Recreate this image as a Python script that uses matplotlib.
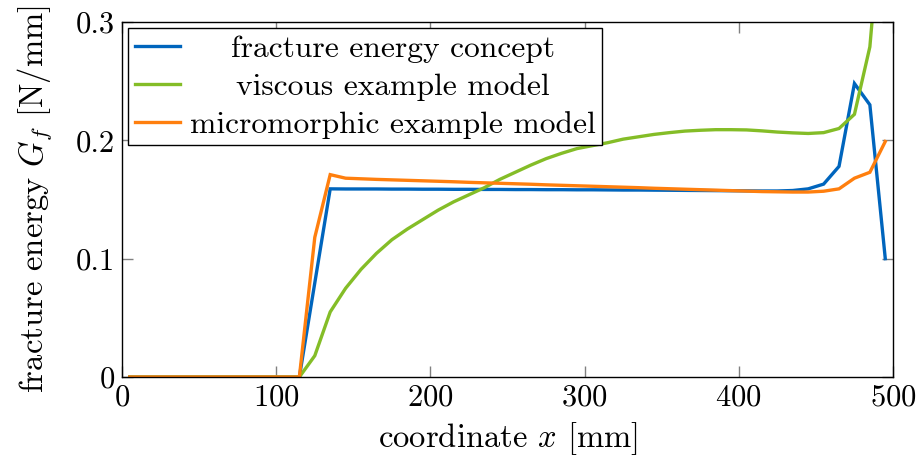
import matplotlib
matplotlib.use("Agg")
import matplotlib.pyplot as plt
from matplotlib.ticker import FuncFormatter

plt.rcParams['font.family'] = 'serif'
plt.rcParams['font.serif'] = ['cmr10']
plt.rcParams['mathtext.fontset'] = 'cm'
plt.rcParams['axes.formatter.use_mathtext'] = True

# element centres [mm]
x = [5, 15, 25, 35, 45, 55, 65, 75, 85, 95, 105, 115, 125, 135, 145, 155, 165, 175, 185, 195,
     205, 215, 225, 235, 245, 255, 265, 275, 285, 295, 305, 315, 325, 335, 345, 355, 365, 375,
     385, 395, 405, 415, 425, 435, 445, 455, 465, 475, 485, 495]

fracture = [0, 0, 0, 0, 0, 0, 0, 0, 0, 0, 0, 0, 0.0795, 0.159, 0.1589, 0.1589, 0.1589, 0.1588,
            0.1588, 0.1587, 0.1587, 0.1586, 0.1586, 0.1585, 0.1585, 0.1584, 0.1584, 0.1583,
            0.1583, 0.1582, 0.1582, 0.1581, 0.1580, 0.1580, 0.1579, 0.1578, 0.1577, 0.1576,
            0.1575, 0.1574, 0.1573, 0.1572, 0.1572, 0.1576, 0.1590, 0.1630, 0.1780, 0.2480,
            0.2300, 0.1000]

viscous = [0, 0, 0, 0, 0, 0, 0, 0, 0, 0, 0, 0, 0.018, 0.055, 0.075, 0.091, 0.1045, 0.116,
           0.125, 0.133, 0.141, 0.148, 0.154, 0.160, 0.167, 0.173, 0.179, 0.1845, 0.189,
           0.193, 0.1955, 0.198, 0.201, 0.203, 0.205, 0.2065, 0.2078, 0.2085, 0.209, 0.209,
           0.2088, 0.208, 0.207, 0.2063, 0.2058, 0.2065, 0.210, 0.222, 0.279, 0.43]

micromorphic = [0, 0, 0, 0, 0, 0, 0, 0, 0, 0, 0, 0, 0.118, 0.171, 0.168, 0.1675, 0.167,
                0.1666, 0.1662, 0.1658, 0.1654, 0.165, 0.1645, 0.1641, 0.1637, 0.1633,
                0.1629, 0.1624, 0.162, 0.1616, 0.1612, 0.1608, 0.1604, 0.16, 0.1595, 0.1591,
                0.1587, 0.1583, 0.1579, 0.1575, 0.1571, 0.1567, 0.1565, 0.1563, 0.1563,
                0.157, 0.159, 0.168, 0.173, 0.199]

labels = ['fracture energy concept', 'viscous example model', 'micromorphic example model']
colors = ['#0065bd', '#84bd27', '#ff7f0e']

fig = plt.figure(figsize=(9.19, 4.57), dpi=100)
ax = fig.add_axes([0.1328, 0.175, 0.8389, 0.7769])

for ys, lab, c in zip([fracture, viscous, micromorphic], labels, colors):
    ax.plot(x, ys, color=c, lw=2.4, label=lab, solid_joinstyle='miter')

ax.set_xlim(0, 500)
ax.set_ylim(0, 0.3)
ax.set_xticks([0, 100, 200, 300, 400, 500])
ax.set_yticks([0, 0.1, 0.2, 0.3])
ax.yaxis.set_major_formatter(FuncFormatter(lambda v, p: '%g' % round(v, 3)))
ax.tick_params(direction='in', length=8, width=1.0, color='#808080',
               top=True, right=True, labelsize=22, pad=5)
for s in ax.spines.values():
    s.set_linewidth(1.0)

ax.set_xlabel('coordinate $x$ [mm]', fontsize=23.5, labelpad=6)
ax.set_ylabel('fracture energy $G_f$ [N/mm]', fontsize=23.5, labelpad=16)

leg = ax.legend(loc='upper left', fontsize=22.7, fancybox=False, edgecolor='black',
                framealpha=1, borderaxespad=0.2, handlelength=1.45, handletextpad=0.3,
                labelspacing=0.32, borderpad=0.2)
leg.get_frame().set_linewidth(1.0)

# centre legend texts like pgfplots
fig.canvas.draw()
r = fig.canvas.get_renderer()
texts = leg.get_texts()
widths = [t.get_window_extent(r).width for t in texts]
wmax = max(widths)
for t, w in zip(texts, widths):
    t.set_position(((wmax - w) / 2, 0))

fig.savefig('out.png', dpi=100)
